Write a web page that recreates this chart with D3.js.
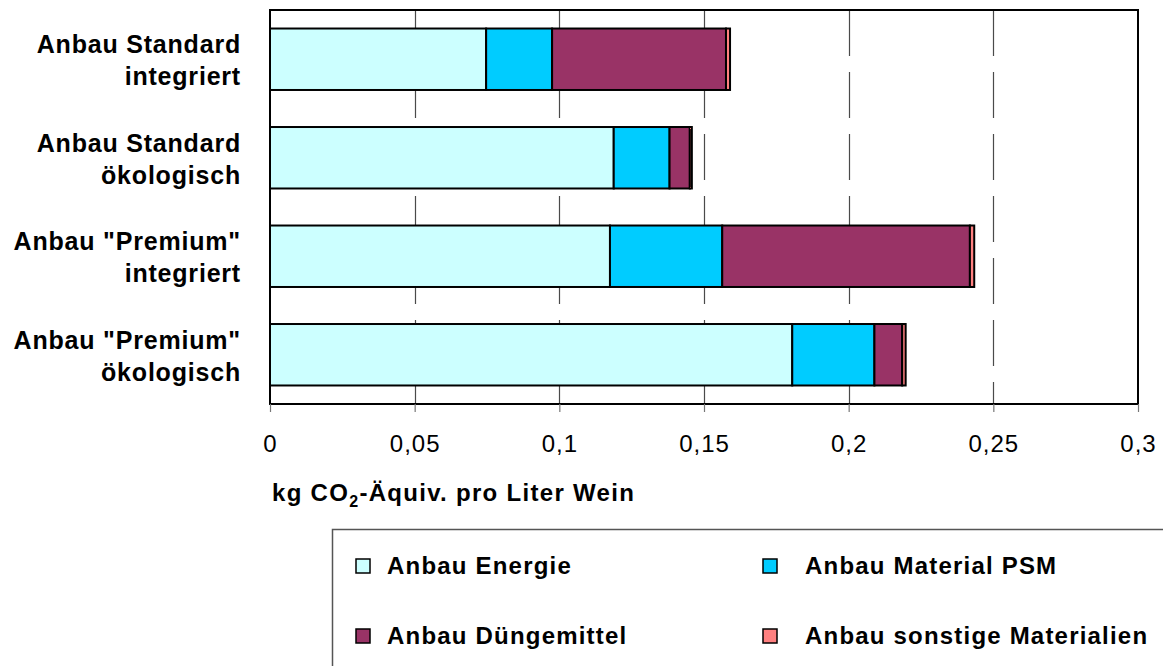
<!DOCTYPE html>
<html>
<head>
<meta charset="utf-8">
<script src="https://cdn.jsdelivr.net/npm/d3@7"></script>
<style>
  html, body { margin: 0; padding: 0; background: #ffffff; }
  svg { display: block; font-family: "Liberation Sans", Arial, sans-serif; }
</style>
</head>
<body>
<svg id="chart" width="1163" height="666"></svg>
<script>
// Cultivation-stage CO2 footprint per litre of wine, by production variant
const categories = [
  ["Anbau Standard", "integriert"],
  ["Anbau Standard", "ökologisch"],
  ["Anbau \"Premium\"", "integriert"],
  ["Anbau \"Premium\"", "ökologisch"]
];
const seriesNames = ["Anbau Energie", "Anbau Material PSM", "Anbau Düngemittel", "Anbau sonstige Materialien"];
const energie  = [0.0747, 0.1188, 0.1175, 0.1805];
const psm      = [0.0228, 0.0193, 0.0388, 0.0284];
const duenger  = [0.0601, 0.0070, 0.0856, 0.0096];
const sonstige = [0.0014, 0.0007, 0.0015, 0.0012];
const colors = ["#CCFFFF", "#00CCFF", "#993366", "#FF8080"];
const tickValues = [0, 0.05, 0.1, 0.15, 0.2, 0.25, 0.3];
const tickLabels = ["0", "0,05", "0,1", "0,15", "0,2", "0,25", "0,3"];

const svg = d3.select("#chart");
const plot = { left: 270, right: 1138, top: 10, bottom: 404 };

const rows = categories.map((c, i) => ({
  key: c.join(" "),
  lines: c,
  [seriesNames[0]]: energie[i],
  [seriesNames[1]]: psm[i],
  [seriesNames[2]]: duenger[i],
  [seriesNames[3]]: sonstige[i]
}));

const x = d3.scaleLinear().domain([0, 0.3]).range([plot.left, plot.right]);
const y = d3.scaleBand()
  .domain(rows.map(d => d.key))
  .range([plot.top, plot.bottom])
  .paddingInner(0.376)
  .paddingOuter(0.188);

// dashed vertical gridlines
svg.append("g")
  .selectAll("line")
  .data(tickValues.slice(1, -1))
  .join("line")
  .attr("x1", d => Math.round(x(d)) + 0.5)
  .attr("x2", d => Math.round(x(d)) + 0.5)
  .attr("y1", plot.top)
  .attr("y2", plot.bottom)
  .attr("stroke", "#4a4a4a")
  .attr("stroke-width", 1.2)
  .attr("stroke-dasharray", "46,16");

// stacked bars
const stacked = d3.stack().keys(seriesNames)(rows);
svg.append("g")
  .selectAll("g")
  .data(stacked)
  .join("g")
  .attr("fill", (d, i) => colors[i])
  .selectAll("rect")
  .data(d => d)
  .join("rect")
  .attr("x", d => x(d[0]))
  .attr("width", d => x(d[1]) - x(d[0]))
  .attr("y", d => y(d.data.key))
  .attr("height", y.bandwidth())
  .attr("stroke", "#000")
  .attr("stroke-width", 2);

// plot frame
svg.append("rect")
  .attr("x", plot.left)
  .attr("y", plot.top)
  .attr("width", plot.right - plot.left)
  .attr("height", plot.bottom - plot.top)
  .attr("fill", "none")
  .attr("stroke", "#000")
  .attr("stroke-width", 2);

// x axis: ticks below frame and labels
const xAxis = d3.axisBottom(x)
  .tickValues(tickValues)
  .tickFormat((d, i) => tickLabels[i])
  .tickSizeInner(8)
  .tickSizeOuter(0)
  .tickPadding(23);
const gx = svg.append("g")
  .attr("transform", `translate(0,${plot.bottom})`)
  .call(xAxis);
gx.select(".domain").remove();
gx.selectAll(".tick line").attr("stroke", "#777").attr("stroke-width", 1.2);
gx.selectAll(".tick text")
  .attr("fill", "#000")
  .style("font-size", "24px")
  .style("letter-spacing", "1px")
  .style("font-family", "'Liberation Sans', Arial, sans-serif");

// x axis title with subscript
const title = svg.append("text")
  .attr("x", 272)
  .attr("y", 501)
  .style("font-size", "24px")
  .style("font-weight", "bold")
  .style("letter-spacing", "1.3px");
title.append("tspan").text("kg CO");
title.append("tspan").attr("dy", 6).style("font-size", "16px").text("2");
title.append("tspan").attr("dy", -6).text("-Äquiv. pro Liter Wein");

// category labels (two lines each)
const labels = svg.append("g")
  .selectAll("text")
  .data(rows)
  .join("text")
  .attr("text-anchor", "end")
  .style("font-size", "25px")
  .style("font-weight", "bold")
  .style("letter-spacing", "0.8px");
labels.each(function(d) {
  const c = y(d.key) + y.bandwidth() / 2;
  const t = d3.select(this);
  t.append("tspan").attr("x", 241).attr("y", c - 6).text(d.lines[0]);
  t.append("tspan").attr("x", 241).attr("y", c + 26).text(d.lines[1]);
});

// legend
svg.append("rect")
  .attr("x", 332.5)
  .attr("y", 529.5)
  .attr("width", 900)
  .attr("height", 200)
  .attr("fill", "#fff")
  .attr("stroke", "#555")
  .attr("stroke-width", 1.5);

const legendPos = [
  { sx: 356, tx: 387, cy: 566 },
  { sx: 763, tx: 805, cy: 566 },
  { sx: 356, tx: 387, cy: 636 },
  { sx: 763, tx: 805, cy: 636 }
];
const legend = svg.append("g")
  .selectAll("g")
  .data(seriesNames)
  .join("g");
legend.append("rect")
  .attr("x", (d, i) => legendPos[i].sx)
  .attr("y", (d, i) => legendPos[i].cy - 7)
  .attr("width", 14)
  .attr("height", 14)
  .attr("fill", (d, i) => colors[i])
  .attr("stroke", "#000")
  .attr("stroke-width", 1.5);
legend.append("text")
  .attr("x", (d, i) => legendPos[i].tx)
  .attr("y", (d, i) => legendPos[i].cy + 8)
  .style("font-size", "24px")
  .style("font-weight", "bold")
  .style("letter-spacing", "1.2px")
  .text(d => d);
</script>
</body>
</html>
